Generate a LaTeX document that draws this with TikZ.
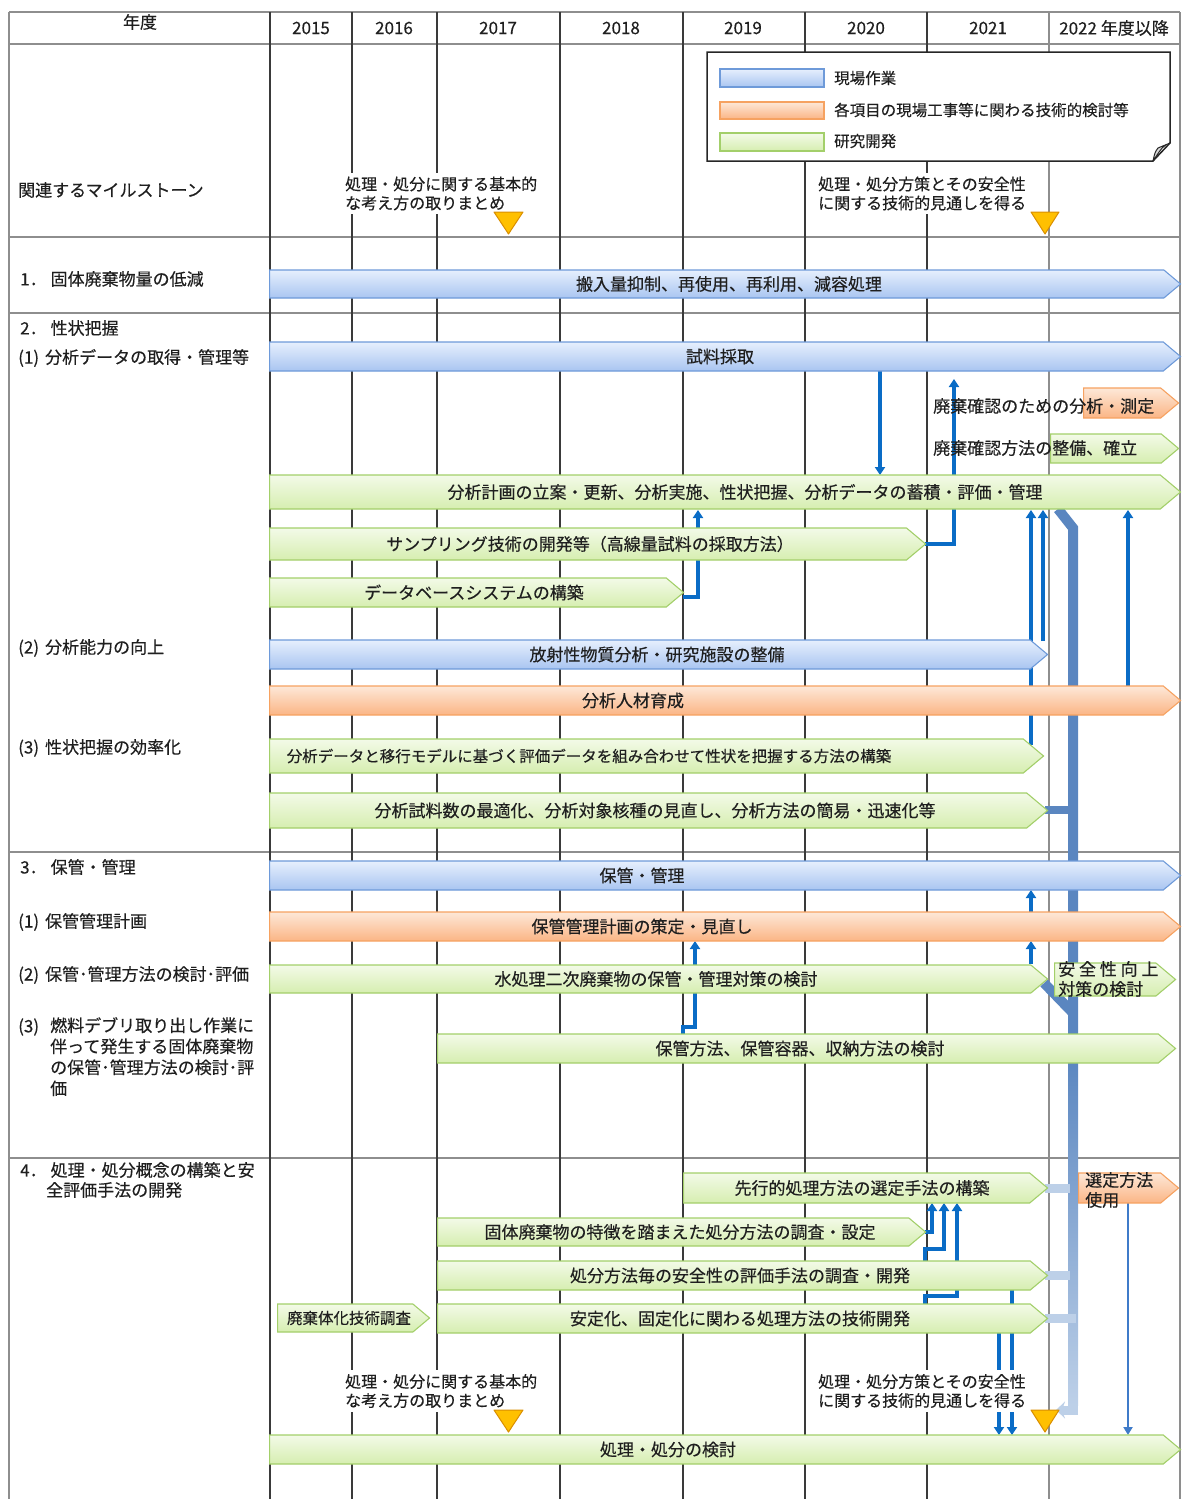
\documentclass[tikz,border=0pt]{standalone}
\usepackage{fontspec}
\setmainfont{Noto Sans CJK JP}[FakeBold=0.35]
\usetikzlibrary{shapes.symbols,arrows.meta,calc}
\definecolor{bbord}{HTML}{6E9AD9}
\definecolor{btop}{HTML}{E6EFFD}
\definecolor{bbot}{HTML}{A9C5F1}
\definecolor{obord}{HTML}{F6A261}
\definecolor{otop}{HTML}{FDE8D8}
\definecolor{obot}{HTML}{FBB585}
\definecolor{gbord}{HTML}{A3CF6A}
\definecolor{gtop}{HTML}{F3FAE8}
\definecolor{gbot}{HTML}{D6EEB0}
\definecolor{arr}{HTML}{0A6CC6}
\definecolor{arrl}{HTML}{3F7BC9}
\definecolor{thk}{HTML}{5A86C0}
\definecolor{thkl}{HTML}{BDD0E8}
\definecolor{mtri}{HTML}{FFC000}
\definecolor{mtrid}{HTML}{D98E00}
\definecolor{gridd}{HTML}{3A3A3A}
\definecolor{gridl}{HTML}{8E8E8E}
\newcommand\pbar[8]{%
  \node[#1, anchor=west, minimum width={#4-#3}, minimum height={#6-#5}] (#2) at (#3,{(#5+#6)/2}) {};
  \node[bartext] (#2t) at (#7,{(#5+#6)/2}) {#8};}
\tikzset{
  barbase/.style={shape=signal, signal to=east, signal pointer angle=80, inner sep=0pt, line width=1.1pt},
  bluebar/.style={barbase, draw=bbord, top color=btop, bottom color=bbot},
  orgbar/.style={barbase, draw=obord, top color=otop, bottom color=obot},
  grnbar/.style={barbase, draw=gbord, top color=gtop, bottom color=gbot},
  bartext/.style={inner sep=0pt, font=\fontsize{17}{20}\selectfont, text=black!88},
  lbl/.style={anchor=west, inner sep=0pt, font=\fontsize{17}{21}\selectfont, text=black!88},
  yr/.style={inner sep=0pt, font=\fontsize{17}{20}\selectfont, text=black!88},
  mstone/.style={anchor=west, fill=white, inner sep=4pt, align=left, font=\fontsize{16}{19}\selectfont, text=black!88},
  legtext/.style={anchor=west, inner sep=0pt, font=\fontsize{15.5}{18}\selectfont, text=black!88},
  conn/.style={draw=arr, line width=3.2pt, -{Triangle[length=8pt,width=10pt]}},
  connl/.style={draw=arrl, line width=2.4pt, -{Triangle[length=8pt,width=9pt]}},
  thickline/.style={draw=thk, line width=10pt, line join=miter},
  thinstub/.style={draw=thkl, line width=9pt},
  gline/.style={line width=1.3pt},
  mtriangle/.style={fill=mtri, draw=mtrid, line width=1pt, line join=round}
}
\begin{document}
\begin{tikzpicture}[x=1pt,y=-1pt]
\useasboundingbox (0,0) rectangle (1181,1499);
% ---------- grid ----------
\foreach \yy in {12,44,237,313,852,1158} \draw[gline, gridl] (9,\yy) -- (1180,\yy);
\draw[gline, gridl] (9,12) -- (9,1499);
\draw[gline, gridl] (1180,12) -- (1180,1499);
\foreach \xx in {270,352,437,560,683,805,927} \draw[gline, gridd] (\xx,12) -- (\xx,1499);
\draw[gline, gridl] (1049,12) -- (1049,1499);
% ---------- header ----------
\node[yr] (h0) at (140,22) {年度};
\node[yr] (y15) at (311,28) {2015};
\node[yr] (y16) at (394,28) {2016};
\node[yr] (y17) at (498,28) {2017};
\node[yr] (y18) at (621,28) {2018};
\node[yr] (y19) at (743,28) {2019};
\node[yr] (y20) at (866,28) {2020};
\node[yr] (y21) at (988,28) {2021};
\node[yr] (y22) at (1114,28) {2022 年度以降};
% ---------- left labels ----------
\node[lbl] (lm) at (18,190) {関連するマイルストーン};
\node[lbl] (l1) at (20,279) {1．\hspace{4pt}固体廃棄物量の低減};
\node[lbl] (l2) at (20,328) {2．\hspace{4pt}性状把握};
\node[lbl] (l21) at (18,358) {(1)\hspace{6pt}分析データの取得・管理等};
\node[lbl] (l22) at (18,648) {(2)\hspace{6pt}分析能力の向上};
\node[lbl] (l23) at (18,748) {(3)\hspace{6pt}性状把握の効率化};
\node[lbl] (l3) at (20,867) {3．\hspace{4pt}保管・管理};
\node[lbl] (l31) at (18,922) {(1)\hspace{6pt}保管管理計画};
\node[lbl] (l32) at (18,975) {(2)\hspace{6pt}保管･管理方法の検討･評価};
\node[lbl] (l33) at (18,1027) {(3)};
\node[lbl, anchor=north west, align=left] (l33b) at (50,1017) {燃料デブリ取り出し作業に\\伴って発生する固体廃棄物\\の保管･管理方法の検討･評\\価};
\node[lbl] (l4) at (20,1170) {4．\hspace{4pt}処理・処分概念の構築と安};
\node[lbl] (l4b) at (46,1190) {全評価手法の開発};
% ---------- connectors (under bars) ----------
\draw[conn] (880,371) -- (880,475);
\draw[conn] (925,544) -| (954,379);
\draw[conn] (683,597) -| (698,510);
\draw[conn] (1043,641) -- (1043,510);
\draw[conn] (1031,745) -- (1031,510);
\draw[conn] (1128,686) -- (1128,510);
\draw[conn] (1031,964) -- (1031,941);
\draw[conn] (1031,912) -- (1031,890);
\draw[conn] (683,1034) -- (683,1027) -| (695,941);
\draw[conn] (925,1232) -| (932,1203);
\draw[conn] (925,1261) |- (944,1249) -- (944,1203);
\draw[conn] (925,1304) |- (957,1296) -- (957,1203);
\draw[conn] (1012,1290) -- (1012,1435);
\draw[conn] (999,1333) -- (999,1435);
\draw[connl] (1128,1203) -- (1128,1435);
% thick line
\draw[thickline] (1058,509) -- (1073,528) -- (1073,1060);
\draw[thickline, line width=8pt] (1045,810) -- (1073,810);
\draw[thickline] (1044,983) -- (1073,1013);
\shade[top color=thk, bottom color=thkl] (1068,1055) rectangle (1078,1405);
\fill[thkl] (1068,1404) rectangle (1078,1415);
\draw[thinstub, -{Stealth[length=9pt,width=17pt,inset=3pt]}] (1078,1410) -- (1056,1410);
\draw[thinstub] (1045,1188) -- (1070,1188);
\draw[thinstub] (1045,1275) -- (1070,1275);
\draw[thinstub] (1045,1318) -- (1076,1318);
% ---------- bars ----------
\pbar{bluebar}{b1}{269}{1180}{270}{298}{729}{搬入量抑制、再使用、再利用、減容処理}
\pbar{bluebar}{s1}{269}{1180}{342}{371}{720}{試料採取}
\pbar{orgbar}{o1}{1083}{1178}{388}{418}{1130}{}
\pbar{grnbar}{g1}{1050}{1178}{434}{463}{1114}{}
\pbar{grnbar}{an}{269}{1180}{475}{509}{745}{分析計画の立案・更新、分析実施、性状把握、分析データの蓄積・評価・管理}
\pbar{grnbar}{sp}{269}{925}{528}{560}{590}{サンプリング技術の開発等（高線量試料の採取方法）}
\pbar{grnbar}{db}{269}{683}{578}{607}{474}{データベースシステムの構築}
\pbar{bluebar}{rf}{269}{1047}{640}{669}{657}{放射性物質分析・研究施設の整備}
\pbar{orgbar}{hr}{269}{1180}{686}{715}{633}{分析人材育成}
\pbar{grnbar}{mv}{269}{1043}{739}{773}{589}{\fontsize{15.5}{18}\selectfont 分析データと移行モデルに基づく評価データを組み合わせて性状を把握する方法の構築}
\pbar{grnbar}{op}{269}{1047}{793}{828}{655}{分析試料数の最適化、分析対象核種の見直し、分析方法の簡易・迅速化等}
\pbar{bluebar}{st}{269}{1180}{861}{890}{642}{保管・管理}
\pbar{orgbar}{pl}{269}{1180}{912}{941}{642}{保管管理計画の策定・見直し}
\pbar{grnbar}{wt}{269}{1047}{965}{993}{656}{水処理二次廃棄物の保管・管理対策の検討}
\pbar{grnbar}{sf}{1054}{1175}{963}{996}{1114}{}
\pbar{grnbar}{ct}{437}{1175}{1034}{1063}{800}{保管方法、保管容器、収納方法の検討}
\pbar{grnbar}{sel}{683}{1047}{1173}{1203}{862}{先行的処理方法の選定手法の構築}
\pbar{orgbar}{use}{1078}{1178}{1173}{1203}{1128}{}
\pbar{grnbar}{dsp}{437}{925}{1218}{1246}{680}{固体廃棄物の特徴を踏まえた処分方法の調査・設定}
\pbar{grnbar}{ev}{437}{1047}{1261}{1290}{740}{処分方法毎の安全性の評価手法の調査・開発}
\pbar{grnbar}{wf}{277}{429}{1304}{1332}{349}{\fontsize{15.5}{18}\selectfont 廃棄体化技術調査}
\pbar{grnbar}{stab}{437}{1047}{1304}{1333}{740}{安定化、固定化に関わる処理方法の技術開発}
\pbar{grnbar}{fin}{269}{1180}{1435}{1464}{668}{処理・処分の検討}
% overflowing bar texts
\node[bartext, anchor=west] (o1x) at (933,406) {廃棄確認のための分析・測定};
\node[bartext, anchor=west] (g1x) at (933,448) {廃棄確認方法の整備、確立};
\node[bartext, anchor=west, align=left] (sfx) at (1058,979) {安 全 性 向 上\\対策の検討};
\node[bartext, anchor=west, align=left] (usex) at (1085,1190) {選定方法\\使用};
% ---------- milestones ----------
\node[mstone] (m1) at (341,193.5) {処理・処分に関する基本的\\な考え方の取りまとめ};
\node[mstone] (m2) at (814,193.5) {処理・処分方策とその安全性\\に関する技術的見通しを得る};
\node[mstone] (m3) at (341,1391) {処理・処分に関する基本的\\な考え方の取りまとめ};
\node[mstone] (m4) at (814,1391) {処理・処分方策とその安全性\\に関する技術的見通しを得る};
\draw[mtriangle] (494,212) -- (523,212) -- (508.5,234) -- cycle;
\draw[mtriangle] (1031,212) -- (1059,212) -- (1045,234) -- cycle;
\draw[mtriangle] (494,1410) -- (523,1410) -- (508.5,1432) -- cycle;
\draw[mtriangle] (1031,1410) -- (1059,1410) -- (1045,1432) -- cycle;
% ---------- legend ----------
\draw[fill=white, line width=1.5pt, draw=black!85, line join=miter] (707,52) -- (1170,52) -- (1170,143) -- (1153,161) -- (707,161) -- cycle;
\draw[fill=black!15, line width=1pt, draw=black!85] (1153,161) .. controls (1155,152) .. (1158,148) -- (1170,143) .. controls (1163,146) .. (1153,161);
\shadedraw[top color=btop, bottom color=bbot, draw=bbord, line width=1.1pt] (720,69) rectangle (824,87);
\shadedraw[top color=otop, bottom color=obot, draw=obord, line width=1.1pt] (720,102) rectangle (824,119);
\shadedraw[top color=gtop, bottom color=gbot, draw=gbord, line width=1.1pt] (720,133) rectangle (824,151);
\node[legtext] (lg1) at (834,78) {現場作業};
\node[legtext] (lg2) at (834,110) {各項目の現場工事等に関わる技術的検討等};
\node[legtext] (lg3) at (834,141) {研究開発};
\end{tikzpicture}
\end{document}
